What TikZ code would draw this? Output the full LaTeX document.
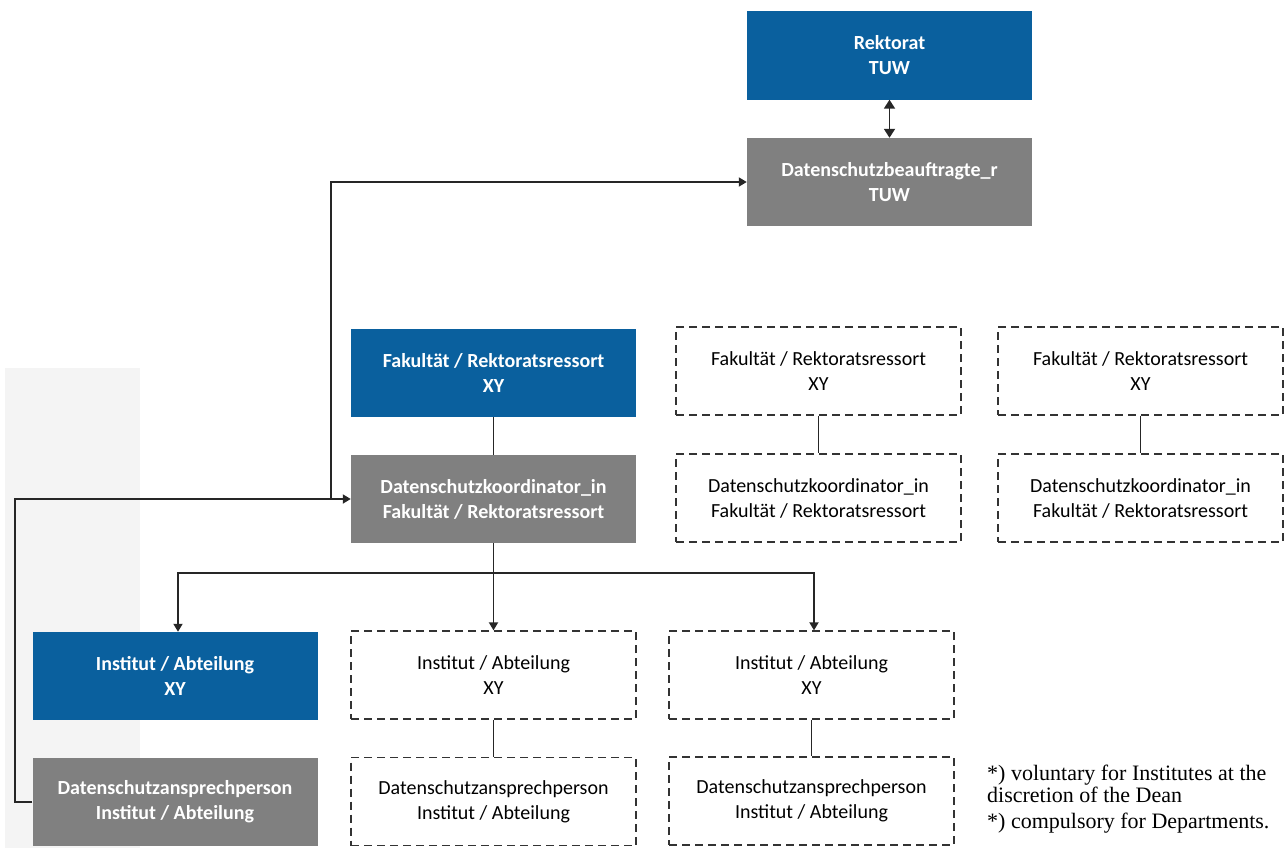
\documentclass[tikz,border=0pt]{standalone}
\usepackage{fontspec}
\setmainfont{Carlito}
\newfontfamily\notefont{Liberation Serif}
\usetikzlibrary{positioning, backgrounds, arrows.meta}
\definecolor{TUblue}{RGB}{10, 96, 158}
\definecolor{TUgrey}{RGB}{128, 128, 128}
\definecolor{Scan}{RGB}{244, 244, 244}
\tikzset{
	box/.style={shape=rectangle, minimum width=285, minimum height=88, align=center, inner sep=0pt, font=\fontsize{20}{25}\selectfont},
	bluebox/.style={box, fill=TUblue, text=white, font=\fontsize{20}{25}\selectfont\bfseries},
	greybox/.style={box, fill=TUgrey, text=white, font=\fontsize{20}{25}\selectfont\bfseries},
	dashbox/.style={box, draw=black!80, line width=1.3pt, dash pattern=on 8pt off 5pt, text=black},
	conn/.style={black!85, line width=1.8pt},
	tip/.style={-{Triangle[length=8pt, width=9pt]}}
}
\begin{document}
\begin{tikzpicture}[x=1pt, y=-1pt]
		\useasboundingbox (0,0) rectangle (1288,851);
		\fill[Scan] (5,368) rectangle (140,848);

		% Rektorat
		\node[bluebox] (rek) at (889.5,55.5) {Rektorat\\TUW};
		\node[greybox] (dsb) at (889.5,182) {Datenschutzbeauftragte\_r\\TUW};
		\path[conn, {Triangle[length=9pt, width=11pt]}-{Triangle[length=9pt, width=11pt]}] (rek) edge (dsb);

		% Fakultaet 1
		\node[bluebox] (fak1) at (493.5,373) {Fakultät / Rektoratsressort\\XY};
		\node[greybox] (dsk1) at (493.5,499) {Datenschutzkoordinator\_in\\Fakultät / Rektoratsressort};
		\path[conn] (fak1) edge (dsk1);
		% Fakultaet 2
		\node[dashbox] (fak2) at (818.5,371) {Fakultät / Rektoratsressort\\XY};
		\node[dashbox] (dsk2) at (818.5,498) {Datenschutzkoordinator\_in\\Fakultät / Rektoratsressort};
		\path[conn] (fak2) edge (dsk2);
		% Fakultaet 3
		\node[dashbox] (fak3) at (1140.5,371) {Fakultät / Rektoratsressort\\XY};
		\node[dashbox] (dsk3) at (1140.5,498) {Datenschutzkoordinator\_in\\Fakultät / Rektoratsressort};
		\path[conn] (fak3) edge (dsk3);

		% Institut 1
		\node[bluebox] (inst1) at (175,676) {Institut / Abteilung\\XY};
		\node[greybox] (dsa1) at (175,802) {Datenschutzansprechperson\\Institut / Abteilung};
		% Institut 2
		\node[dashbox] (inst2) at (493.5,675) {Institut / Abteilung\\XY};
		\node[dashbox] (dsa2) at (493.5,801.5) {Datenschutzansprechperson\\Institut / Abteilung};
		\path[conn] (inst2) edge (dsa2);
		% Institut 3
		\node[dashbox] (inst3) at (811.5,675) {Institut / Abteilung\\XY};
		\node[dashbox] (dsa3) at (811.5,801) {Datenschutzansprechperson\\Institut / Abteilung};
		\path[conn] (inst3) edge (dsa3);

		% connectors
		\coordinate (bus) at (0,573);
		\coordinate (lft) at (15,0);
		\coordinate (brn) at (331,0);
		\draw[conn] (dsk1.south) -- (dsk1.south |- bus);
		\draw[conn, tip] (dsk1.south |- bus) -| ([xshift=3pt]inst1.north);
		\draw[conn, tip] (dsk1.south |- bus) -- (inst2.north);
		\draw[conn, tip] (dsk1.south |- bus) -| ([xshift=2.5pt]inst3.north);
		\draw[conn, tip] (dsa1.west) -- (dsa1.west -| lft) |- (dsk1.west);
		\draw[conn, tip] (dsk1.west -| brn) |- (dsb.west);

		% note
		\node[anchor=base west, align=left, inner sep=0pt, font=\notefont\fontsize{22}{18}\selectfont] (note) at (987,828) {*) voluntary for Institutes at the\\discretion of the Dean\\[8pt]*) compulsory for Departments.};
	\end{tikzpicture}
\end{document}
